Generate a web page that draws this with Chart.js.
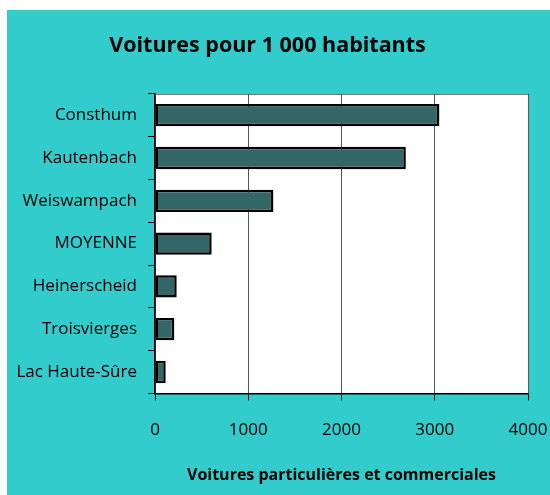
<!DOCTYPE html>
<html>
<head>
<meta charset="utf-8">
<script src="https://cdn.jsdelivr.net/npm/chart.js@4"></script>
<style>
  body { margin: 0; background: #fff; }
  #box { position: absolute; left: 7px; top: 10px; width: 543px; height: 485px; background: #33cccc; }
</style>
</head>
<body>
<div id="box"><canvas id="carsChart"></canvas></div>
<script>
const communes = ["Consthum", "Kautenbach", "Weiswampach", "MOYENNE", "Heinerscheid", "Troisvierges", "Lac Haute-Sûre"];
const carsPer1000 = [3050, 2690, 1270, 608, 233, 207, 115];
const xTicks = [0, 1000, 2000, 3000, 4000];

const fontFamily = "'Open Sans', 'Noto Sans', sans-serif";

// white plot area + frame round it
const plotFrame = {
  id: "plotFrame",
  beforeDraw(chart) {
    const { ctx, chartArea: a } = chart;
    ctx.save();
    ctx.fillStyle = "#ffffff";
    ctx.fillRect(a.left, a.top, a.right - a.left, a.bottom - a.top);
    ctx.restore();
  },
  afterDatasetsDraw(chart) {
    const { ctx, chartArea: a } = chart;
    ctx.save();
    ctx.strokeStyle = "#555555";
    ctx.lineWidth = 1;
    ctx.beginPath();
    ctx.moveTo(a.left, a.top + 0.5);
    ctx.lineTo(a.right + 0.5, a.top + 0.5);
    ctx.lineTo(a.right + 0.5, a.bottom);
    ctx.stroke();
    ctx.restore();
  },
};

const ctx = document.getElementById("carsChart").getContext("2d");
const myChart = new Chart(ctx, {
  type: "bar",
  data: {
    labels: communes,
    datasets: [
      {
        data: carsPer1000,
        backgroundColor: "#336666",
        borderColor: "#000000",
        borderWidth: 2.5,
        borderSkipped: false,
        barPercentage: 0.52,
        categoryPercentage: 1,
      },
    ],
  },
  options: {
    indexAxis: "y",
    responsive: true,
    maintainAspectRatio: false,
    animation: false,
    layout: { padding: { left: 0, right: 22, top: 0, bottom: 4 } },
    plugins: {
      legend: { display: false },
      tooltip: { enabled: false },
      title: {
        display: true,
        text: "Voitures pour 1 000 habitants",
        color: "#000000",
        font: { family: fontFamily, size: 21.5, weight: "bold" },
        padding: { top: 23, bottom: 35 },
      },
    },
    scales: {
      x: {
        min: 0,
        max: 4000,
        afterBuildTicks: (scale) => {
          scale.ticks = xTicks.map((v) => ({ value: v }));
        },
        afterFit: (scale) => {
          // let the last label hang into the right margin
          scale.paddingRight = 0;
        },
        ticks: {
          color: "#000000",
          padding: 20,
          maxRotation: 0,
          font: { family: fontFamily, size: 17 },
          callback: (value) => String(value),
        },
        grid: {
          color: "#555555",
          lineWidth: 1,
          tickLength: 7,
          tickColor: "#000000",
        },
        border: { color: "#000000", width: 1.5 },
        title: {
          display: true,
          text: "Voitures particulières et commerciales",
          color: "#000000",
          font: { family: fontFamily, size: 16, weight: "bold" },
          padding: { top: 5, bottom: 6 },
        },
      },
      y: {
        afterFit: (scale) => {
          scale.width = 148;
        },
        ticks: {
          color: "#000000",
          padding: 11,
          font: { family: fontFamily, size: 17 },
        },
        grid: {
          offset: true,
          drawOnChartArea: false,
          tickLength: 7,
          color: "#000000",
        },
        border: { color: "#000000", width: 1.5 },
      },
    },
  },
  plugins: [plotFrame],
});
</script>
</body>
</html>
